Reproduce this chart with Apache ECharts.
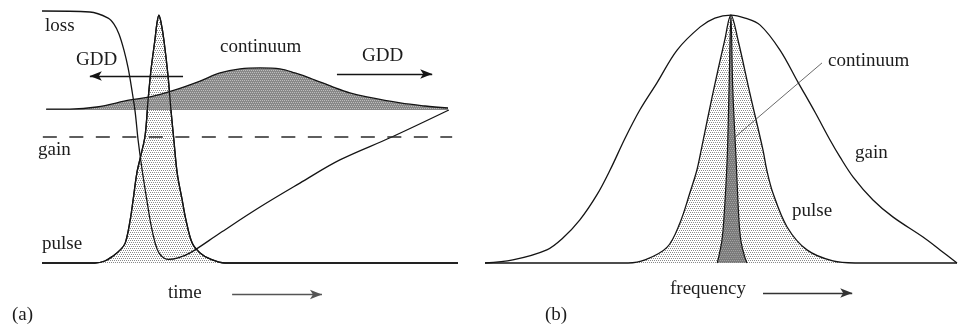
<!DOCTYPE html>
<html>
<head>
<meta charset="utf-8">
<script src="https://cdn.jsdelivr.net/npm/echarts@6/dist/echarts.min.js"></script>
<style>
  html, body { margin: 0; padding: 0; background: #fff; }
  #chart { width: 960px; height: 329px; }
</style>
</head>
<body>
<div id="chart"></div>
<script>
// ---- Panel (a): time domain (x: 0-100 across the window, y: 0-100 above the baseline)
const timeLoss = [
  [0, 100], [11.5, 99.6], [15.9, 97.2], [17.3, 94.8], [18.5, 90.9], [19.7, 84.5],
  [20.7, 77.4], [21.6, 68.7], [22.4, 59.9], [23.1, 48.8], [24.0, 37.7], [25.2, 25.0],
  [26.2, 15.1], [27.2, 7.9], [28.1, 4.0], [29.3, 2.0], [30.5, 1.4], [32.7, 2.0],
  [35.6, 4.0], [42.8, 11.9], [52.4, 22.2], [62.0, 31.7], [71.6, 40.9], [84.1, 50.0],
  [97.8, 60.7]
];
const timePulse = [
  [0, 0], [12.7, 0], [15.1, 0.8], [17.1, 2.8], [18.8, 5.2], [20.0, 7.9], [21.2, 17.1],
  [21.9, 25.0], [22.8, 35.7], [23.8, 42.9], [24.8, 50.8], [25.5, 64.7], [26.2, 76.6],
  [27.2, 89.3], [27.6, 94.8], [28.1, 98.4], [28.6, 95.6], [29.3, 88.5], [30.3, 74.2],
  [31.0, 60.7], [31.7, 48.8], [32.5, 35.7], [33.7, 25.0], [34.6, 17.1], [36.1, 7.9],
  [38.0, 4.0], [40.4, 1.6], [44.0, 0], [100, 0]
];
const timeContinuum = [
  [1.0, 61.1], [6.7, 61.1], [13.2, 61.9], [21.2, 64.7], [26.0, 65.9], [32.0, 68.7],
  [38.0, 72.2], [42.8, 75.4], [47.6, 77.0], [52.4, 77.4], [57.2, 77.0], [60.8, 75.4],
  [64.4, 73.4], [70.0, 69.8], [74.0, 67.5], [78.1, 65.9], [86.1, 63.5], [92.1, 62.3],
  [97.6, 61.5]
];
const continuumFloor = 60.7;     // level the time-domain continuum sits on
const gainLevel = 50.0;          // saturated gain (dashed)
const gainSpan = [0.2, 98.6];

// ---- Panel (b): spectra (x: 0-100 across the window, y: 0-100 above the baseline)
const freqGain = [
  [0, 0], [5.9, 1.2], [13.1, 5.2], [16.5, 9.9], [20.1, 17.1], [23.7, 27.0], [26.5, 36.9],
  [29.7, 49.6], [32.8, 60.7], [36.4, 71.4], [40.7, 84.5], [45.6, 93.7], [48.7, 97.2],
  [52.1, 98.4], [55.1, 97.2], [58.3, 94.4], [62.5, 84.5], [66.3, 71.8], [69.9, 59.9],
  [73.1, 48.8], [75.2, 42.1], [78.0, 34.1], [82.2, 25.0], [86.4, 18.3], [92.8, 10.3],
  [96.4, 5.2], [100, 0]
];
const freqPulse = [
  [0, 0], [30.3, 0], [33.9, 1.2], [38.6, 6.3], [41.3, 15.9], [43.4, 27.8], [44.9, 36.9],
  [45.8, 44.8], [48.3, 67.5], [50.8, 88.5], [52.1, 98.4], [53.6, 88.5], [56.1, 67.5],
  [58.9, 44.8], [59.7, 36.9], [61.0, 27.8], [64.0, 14.3], [68.2, 5.2], [73.7, 0.8],
  [78.4, 0], [100, 0]
];
const freqContinuum = [
  [49.2, 0], [49.6, 3.2], [50.2, 9.1], [50.6, 17.1], [51.3, 40.9], [51.7, 68.7],
  [52.1, 98.4], [52.5, 68.7], [53.2, 40.9], [53.8, 17.1], [54.2, 9.1], [54.9, 3.2],
  [55.5, 0]
];

// small stipple tiles used as area fills
function stipple(bg, dot) {
  const c = document.createElement('canvas');
  c.width = 4; c.height = 4;
  const g = c.getContext('2d');
  g.fillStyle = bg; g.fillRect(0, 0, 4, 4);
  g.fillStyle = dot;
  [[0, 0], [2, 0], [1, 2], [3, 2]].forEach(([x, y]) => g.fillRect(x, y, 1, 1));
  return { image: c, repeat: 'repeat' };
}
const lightFill = stipple('#ffffff', '#8a8a8a');
const darkFillA = stipple('#888888', '#bcbcbc');
const darkFillB = stipple('#7a7a7a', '#a4a4a4');

const INK = '#141414';
const base = {
  type: 'line', symbol: 'none', showSymbol: false, silent: true,
  clip: false, animation: false, smooth: 0.35
};
const solid = (w, c) => ({ color: c || INK, width: w, type: 'solid' });
const arrowLine = (from, to, color) => [
  { coord: from, lineStyle: { color: color || INK, width: 1.3, type: 'solid' } },
  { coord: to }
];

const serif = '"Liberation Serif", "Times New Roman", serif';
const label = (text, x, y) => ({
  type: 'text', silent: true,
  style: { text, x, y, font: '19px ' + serif, fill: '#1c1c1c', verticalAlign: 'middle' }
});

const chart = echarts.init(document.getElementById('chart'), null, { renderer: 'canvas' });
chart.setOption({
  animation: false,
  backgroundColor: '#ffffff',
  grid: [
    { left: 42, right: 502, top: 11, bottom: 28.2 },
    { left: 485, right: 3, top: 11, bottom: 28.2 }
  ],
  xAxis: [
    { type: 'value', gridIndex: 0, min: 0, max: 100, show: false },
    { type: 'value', gridIndex: 1, min: 0, max: 100, show: false }
  ],
  yAxis: [
    { type: 'value', gridIndex: 0, min: -15, max: 100, show: false },
    { type: 'value', gridIndex: 1, min: -15, max: 100, show: false }
  ],
  series: [
    // (a) pulse fill
    Object.assign({}, base, {
      name: 'pulse', xAxisIndex: 0, yAxisIndex: 0, data: timePulse, z: 1,
      lineStyle: solid(1.3), areaStyle: { color: lightFill, opacity: 1, origin: 0 }
    }),
    // (a) continuum
    Object.assign({}, base, {
      name: 'continuum', xAxisIndex: 0, yAxisIndex: 0, data: timeContinuum, z: 2,
      lineStyle: solid(1.3), areaStyle: { color: darkFillA, opacity: 1, origin: continuumFloor }
    }),
    // (a) pulse outline on top of the fills
    Object.assign({}, base, {
      name: 'pulse edge', xAxisIndex: 0, yAxisIndex: 0, data: timePulse, z: 3,
      lineStyle: solid(1.3)
    }),
    // (a) loss
    Object.assign({}, base, {
      name: 'loss', xAxisIndex: 0, yAxisIndex: 0, data: timeLoss, z: 3,
      lineStyle: solid(1.3)
    }),
    // (a) gain, dashed, plus the annotation arrows
    Object.assign({}, base, {
      name: 'gain', xAxisIndex: 0, yAxisIndex: 0, smooth: false, z: 3,
      data: [[gainSpan[0], gainLevel], [gainSpan[1], gainLevel]],
      lineStyle: { color: '#2a2a2a', width: 1.3, type: [14, 12.5] },
      markLine: {
        silent: true, animation: false, symbol: ['none', 'arrow'], symbolSize: [7, 12],
        label: { show: false },
        data: [
          arrowLine([33.9, 74.2], [11.5, 74.2]),
          arrowLine([70.9, 75.0], [93.8, 75.0]),
          arrowLine([45.7, -12.5], [67.3, -12.5], '#555')
        ]
      }
    }),
    // (b) pulse spectrum
    Object.assign({}, base, {
      name: 'pulse spectrum', xAxisIndex: 1, yAxisIndex: 1, data: freqPulse, z: 1,
      lineStyle: solid(1.3), areaStyle: { color: lightFill, opacity: 1, origin: 0 }
    }),
    // (b) continuum spectrum
    Object.assign({}, base, {
      name: 'continuum spectrum', xAxisIndex: 1, yAxisIndex: 1, data: freqContinuum, z: 2,
      lineStyle: solid(1.2), areaStyle: { color: darkFillB, opacity: 1, origin: 0 }
    }),
    // (b) gain spectrum, with the label pointer and the frequency arrow
    Object.assign({}, base, {
      name: 'gain spectrum', xAxisIndex: 1, yAxisIndex: 1, data: freqGain, z: 3,
      lineStyle: solid(1.3),
      markLine: {
        silent: true, animation: false, symbol: ['none', 'arrow'], symbolSize: [7, 12],
        label: { show: false },
        data: [
          [
            { coord: [71.4, 79.4], symbol: 'none', lineStyle: { color: '#444', width: 0.8, type: 'solid' } },
            { coord: [53.0, 50.0], symbol: 'none' }
          ],
          arrowLine([58.9, -11.9], [77.8, -11.9], '#333')
        ]
      }
    })
  ],
  graphic: [
    label('loss', 45, 26.5),
    label('GDD', 76, 60.5),
    label('continuum', 220, 47.5),
    label('GDD', 362, 56.5),
    label('gain', 38, 150.5),
    label('pulse', 42, 244.5),
    label('time', 168, 293.5),
    label('(a)', 12, 315.5),
    label('continuum', 828, 61.5),
    label('gain', 855, 153.5),
    label('pulse', 792, 211.5),
    label('frequency', 670, 289.5),
    label('(b)', 545, 315.5)
  ]
});
</script>
</body>
</html>
